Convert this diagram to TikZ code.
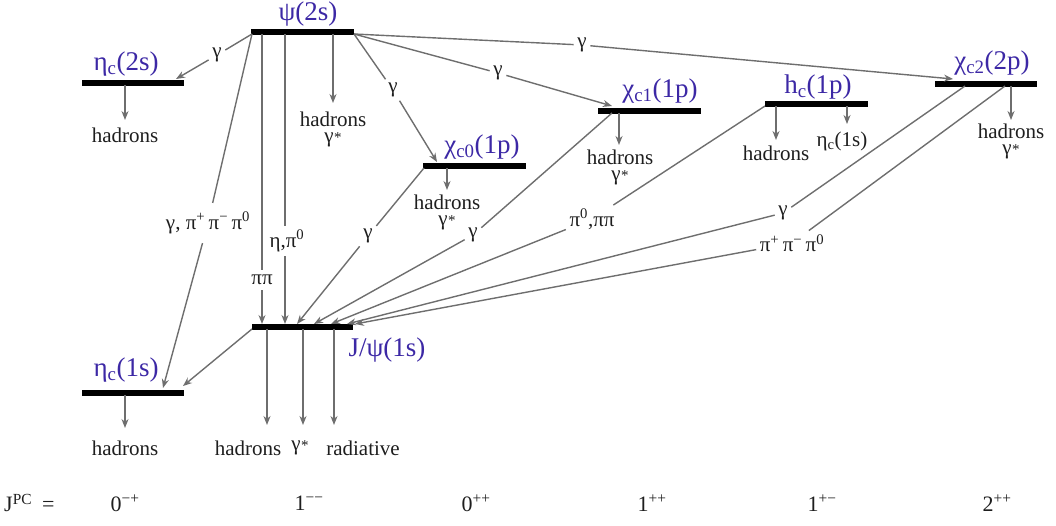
\documentclass[tikz,border=0pt]{standalone}
\usepackage{fontspec}
\setmainfont{Liberation Serif}
\usetikzlibrary{arrows.meta}
\definecolor{lvl}{RGB}{60,40,165}
\definecolor{ln}{RGB}{110,110,110}
\definecolor{tx}{RGB}{30,30,30}
\newcommand{\gstar}{γ\kern0.6pt{\fontsize{15}{15}\selectfont *}}
\begin{document}
\begin{tikzpicture}[x=1pt,y=-1pt,
  bar/.style={line width=5.5pt,black},
  arr/.style={draw=ln,line width=1.4pt,-{Stealth[length=9pt,width=7pt]}},
  lab/.style={text=tx,font=\fontsize{21}{22}\selectfont,inner sep=3.5pt},
  prod/.style={text=tx,font=\fontsize{21}{22}\selectfont,inner sep=0pt},
  prod2/.style={text=tx,font=\fontsize{21}{16}\selectfont,inner sep=0pt,align=center,anchor=north},
  qn/.style={text=tx,font=\fontsize{22}{24}\selectfont,inner sep=0pt},
  lvlname/.style={text=lvl,font=\fontsize{27}{29}\selectfont,inner sep=0pt}]
\useasboundingbox (0,0) rectangle (1056,525);

% ---- level bars (end points)
\coordinate (psiL) at (251,32);   \coordinate (psiR) at (354,32);
\coordinate (e2L) at (82,83);     \coordinate (e2R) at (184,83);
\coordinate (c0L) at (423,166);   \coordinate (c0R) at (526,166);
\coordinate (c1L) at (598,111);   \coordinate (c1R) at (701,111);
\coordinate (hcL) at (765,104);   \coordinate (hcR) at (868,104);
\coordinate (c2L) at (935,84);    \coordinate (c2R) at (1037,84);
\coordinate (jL) at (252,327);    \coordinate (jR) at (353,327);
\coordinate (e1L) at (82,393);    \coordinate (e1R) at (184,393);

\foreach \a/\b in {psiL/psiR,e2L/e2R,c0L/c0R,c1L/c1R,hcL/hcR,c2L/c2R,jL/jR,e1L/e1R}
  \draw[bar] (\a) -- (\b);

% ---- level names
\node[lvlname] (npsi) at (308,14) {ψ(2s)};
\node[lvlname] (ne2) at (126,64) {η\textsubscript{c}(2s)};
\node[lvlname] (nc0) at (482,147) {χ\textsubscript{c0}(1p)};
\node[lvlname] (nc1) at (660,91) {χ\textsubscript{c1}(1p)};
\node[lvlname] (nhc) at (818,87) {h\textsubscript{c}(1p)};
\node[lvlname] (nc2) at (992,63) {χ\textsubscript{c2}(2p)};
\node[lvlname] (nj) at (387,350) {J/ψ(1s)};
\node[lvlname] (ne1) at (126,370) {η\textsubscript{c}(1s)};

% ---- connector end points
\coordinate (psiA) at (252,34);
\coordinate (psiP) at (262,34);
\coordinate (psiE) at (285,34);
\coordinate (psiB) at (354,34);
\coordinate (e2T) at (176,79);
\coordinate (e1Ta) at (163,388);
\coordinate (e1Tb) at (183,386);
\coordinate (c0T) at (437,162);
\coordinate (c1T) at (612,106);
\coordinate (c2T) at (953,79);
\coordinate (j1) at (262,324);
\coordinate (j2) at (285,324);
\coordinate (j3) at (297,324);
\coordinate (j4) at (314,324);
\coordinate (j5) at (331,324);
\coordinate (j6) at (347,324);
\coordinate (j7) at (355,324);
\coordinate (c0S) at (424,168);
\coordinate (c1S) at (612,113);
\coordinate (hcS) at (765,106);
\coordinate (c2Sa) at (965,86);
\coordinate (c2Sb) at (1005,86);
\coordinate (jS) at (252,329);

% ---- transition labels
\node[lab] (g1) at (217,55) {γ};
\node[lab,inner ysep=9pt] (g2) at (208,223) {γ, π\textsuperscript{+}\,π\textsuperscript{−}\,π\textsuperscript{0}};
\node[lab,inner ysep=5pt] (gpp) at (262,280) {ππ};
\node[lab,inner ysep=4pt] (gep) at (287,241) {η,π\textsuperscript{0}};
\node[lab] (g6) at (393,90) {γ};
\node[lab] (g7) at (498,73) {γ};
\node[lab] (g8) at (582,45) {γ};
\node[lab] (g11) at (368,236) {γ};
\node[lab] (g13) at (473,235) {γ};
\node[lab] (g16) at (592,219) {π\textsuperscript{0},ππ};
\node[lab] (g17) at (783,213) {γ};
\node[lab] (g18) at (792,243) {π\textsuperscript{+}\,π\textsuperscript{−}\,π\textsuperscript{0}};

% ---- transitions
\draw[arr] (psiA) -- (g1) -- (e2T);
\draw[arr] (psiA) -- (g2) -- (e1Ta);
\draw[arr] (psiP) -- (gpp) -- (j1);
\draw[arr] (psiE) -- (gep.north -| psiE) (gep.south -| psiE) -- (j2);
\draw[arr] (psiB) -- (g6) -- (c0T);
\draw[arr] (psiB) -- (g7) -- (c1T);
\draw[arr] (psiB) -- (g8) -- (c2T);
\draw[arr] (c0S) -- (g11) -- (j3);
\draw[arr] (c1S) -- (g13) -- (j4);
\draw[arr] (hcS) -- (g16) -- (j5);
\draw[arr] (c2Sa) -- (g17) -- (j6);
\draw[arr] (c2Sb) -- (g18) -- (j7);
\draw[arr] (jS) -- (e1Tb);

% ---- decay products
\coordinate (d1s) at (125,85);   \coordinate (d1e) at (125,120);
\coordinate (d2s) at (333,34);   \coordinate (d2e) at (333,103);
\coordinate (d3s) at (447,168);  \coordinate (d3e) at (447,190);
\coordinate (d4s) at (619,113);  \coordinate (d4e) at (619,145);
\coordinate (d5s) at (776,106);  \coordinate (d5e) at (776,140);
\coordinate (d6s) at (847,106);  \coordinate (d6e) at (847,124);
\coordinate (d7s) at (1011,86);  \coordinate (d7e) at (1011,120);
\coordinate (d8s) at (267,329);  \coordinate (d8e) at (267,425);
\coordinate (d9s) at (303,329);  \coordinate (d9e) at (303,425);
\coordinate (d10s) at (334,329); \coordinate (d10e) at (334,425);
\coordinate (d11s) at (125,395); \coordinate (d11e) at (125,428);
\foreach \i in {1,...,11} \draw[arr] (d\i s) -- (d\i e);

\node[prod] (h1) at (125,135) {hadrons};
\node[prod2] (h2) at (333,112) {hadrons\\\gstar};
\node[prod2] (h3) at (447,195) {hadrons\\\gstar};
\node[prod2] (h4) at (620,150) {hadrons\\\gstar};
\node[prod] (h5) at (776,153) {hadrons};
\node[prod] (h6) at (842,141) {η\textsubscript{c}(1s)};
\node[prod2] (h7) at (1011,124) {hadrons\\\gstar};
\node[prod] (h8) at (248,448) {hadrons};
\node[prod] (s8) at (300,448) {\gstar};
\node[prod] (r8) at (363,448) {radiative};
\node[prod] (h11) at (125,448) {hadrons};

% ---- quantum numbers
\node[qn,anchor=west] (jpc) at (4,503) {J\textsuperscript{PC}\hspace{10pt}=};
\node[qn] (q1) at (125,503) {0\textsuperscript{−+}};
\node[qn] (q2) at (309,503) {1\textsuperscript{−−}};
\node[qn] (q3) at (476,503) {0\textsuperscript{++}};
\node[qn] (q4) at (652,503) {1\textsuperscript{++}};
\node[qn] (q5) at (822,503) {1\textsuperscript{+−}};
\node[qn] (q6) at (997,503) {2\textsuperscript{++}};
\end{tikzpicture}
\end{document}
